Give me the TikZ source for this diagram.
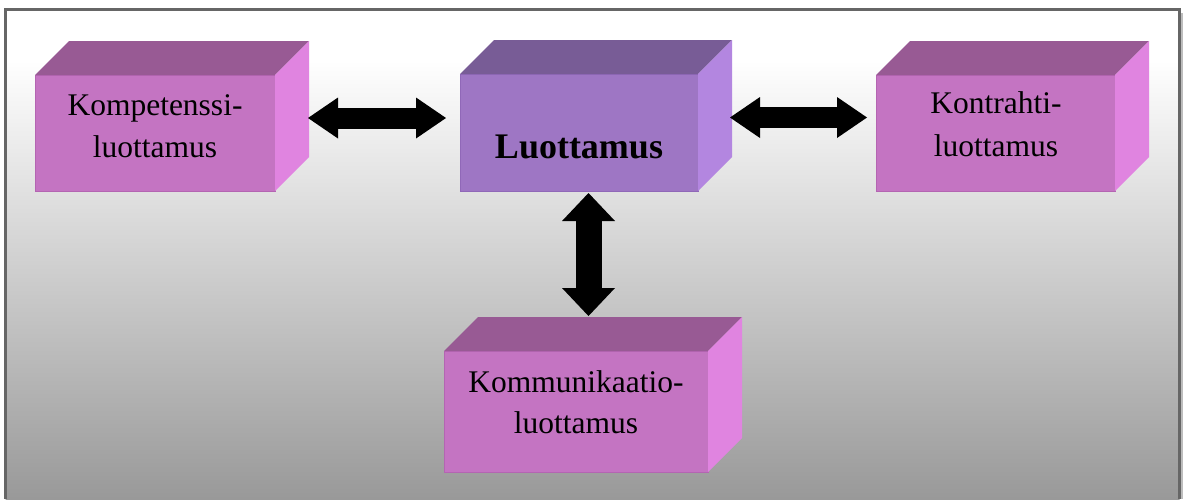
\documentclass[tikz,border=0pt]{standalone}
\usepackage{fontspec}
\setmainfont{Liberation Serif}
\usetikzlibrary{arrows.meta}
\definecolor{pinkF}{HTML}{C474C2}
\definecolor{pinkT}{HTML}{985A94}
\definecolor{pinkS}{HTML}{E084E0}
\definecolor{pinkE}{HTML}{B465B2}
\definecolor{purpF}{HTML}{9E76C4}
\definecolor{purpT}{HTML}{785C96}
\definecolor{purpS}{HTML}{B386E0}
\definecolor{purpE}{HTML}{9068B8}
\definecolor{frameC}{HTML}{666666}
\definecolor{shadowC}{HTML}{BDBDBD}
\definecolor{bgBottom}{HTML}{999999}
\newcommand\cubefaces[3]{%
  \fill[#2] (#1.north west) -- ++(34,-34) -- ([shift={(34,-34)}]#1.north east) -- (#1.north east) -- cycle;
  \fill[#3] (#1.north east) -- ++(34,-34) -- ([shift={(34,-34)}]#1.south east) -- (#1.south east) -- cycle;
}
\begin{document}
\begin{tikzpicture}[x=1pt,y=-1pt,
  front/.style={inner sep=0pt, outer sep=0pt, anchor=north west, line width=1pt},
  pinkbox/.style={front, fill=pinkF, draw=pinkE},
  purpbox/.style={front, fill=purpF, draw=purpE},
  lbl/.style={anchor=base, inner sep=0pt, font=\fontsize{31.5}{37}\selectfont},
  hdbl/.style={line width=21pt, {Triangle[length=30pt,width=41pt,line width=0pt]}-{Triangle[length=30pt,width=41pt,line width=0pt]}},
  vdbl/.style={line width=26pt, {Triangle[length=28pt,width=53pt,line width=0pt]}-{Triangle[length=28pt,width=53pt,line width=0pt]}}
]
\useasboundingbox (0,0) rectangle (1185,499);
% background and frame
\fill[shadowC] (1180,13) rectangle (1183,499);
\fill[white] (5.5,9.5) rectangle (1179.5,60);
\shade[top color=white, bottom color=bgBottom] (5.5,60) rectangle (1179.5,499);
\draw[frameC, line width=3pt] (5.5,499) -- (5.5,9.5) -- (1179.5,9.5) -- (1179.5,499);
% boxes
\node[pinkbox, minimum width=240pt, minimum height=116pt] (b1) at (35,75) {};
\cubefaces{b1}{pinkT}{pinkS}
\node[purpbox, minimum width=238pt, minimum height=117pt] (b2) at (460,74) {};
\cubefaces{b2}{purpT}{purpS}
\node[pinkbox, minimum width=239pt, minimum height=116pt] (b3) at (876,75) {};
\cubefaces{b3}{pinkT}{pinkS}
\node[pinkbox, minimum width=264pt, minimum height=121pt] (b4) at (444,351) {};
\cubefaces{b4}{pinkT}{pinkS}
% texts
\node[lbl] (t1a) at (155,115) {Kompetenssi-};
\node[lbl] (t1b) at (155,157) {luottamus};
\node[lbl, font=\fontsize{36}{40}\selectfont\bfseries] (t2) at (579,158) {Luottamus};
\node[lbl] (t3a) at (996,113) {Kontrahti-};
\node[lbl] (t3b) at (996,156) {luottamus};
\node[lbl] (t4a) at (576,392) {Kommunikaatio-};
\node[lbl] (t4b) at (576,433) {luottamus};
% arrows
\coordinate (a1l) at (308,118);
\coordinate (a1r) at (446,118);
\coordinate (a2l) at (730,117.5);
\coordinate (a2r) at (867,117.5);
\coordinate (a3t) at (588.5,193);
\coordinate (a3b) at (588.5,316);
\draw[hdbl] (a1l) -- (a1r);
\draw[hdbl] (a2l) -- (a2r);
\draw[vdbl] (a3t) -- (a3b);
\end{tikzpicture}
\end{document}
